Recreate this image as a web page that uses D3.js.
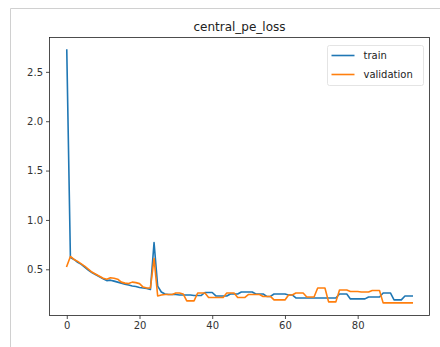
<!DOCTYPE html>
<html>
<head>
<meta charset="utf-8">
<script src="https://cdn.jsdelivr.net/npm/d3@7"></script>
<style>
  body { margin: 0; background: #fff; }
  svg text { font-family: "DejaVu Sans", sans-serif; }
</style>
</head>
<body>
<div id="chart"></div>
<script>
var chartTitle = 'central_pe_loss';
var seriesNames = ['train', 'validation'];
var xTicks = [0, 20, 40, 60, 80];
var yTicks = [0.5, 1.0, 1.5, 2.0, 2.5];

var train = [
  2.72, 0.62, 0.60, 0.57, 0.55, 0.52, 0.49, 0.465, 0.445, 0.425,
  0.405, 0.385, 0.39, 0.38, 0.37, 0.36, 0.35, 0.34, 0.33, 0.325,
  0.315, 0.31, 0.305, 0.295, 0.77, 0.33, 0.27, 0.25, 0.245, 0.245,
  0.245, 0.24, 0.24, 0.24, 0.24, 0.235, 0.235, 0.235, 0.265, 0.265,
  0.265, 0.23, 0.23, 0.23, 0.23, 0.25, 0.25, 0.25, 0.27, 0.27,
  0.27, 0.27, 0.25, 0.25, 0.25, 0.225, 0.225, 0.25, 0.25, 0.25,
  0.25, 0.24, 0.24, 0.21, 0.21, 0.21, 0.21, 0.21, 0.21, 0.21,
  0.21, 0.21, 0.21, 0.21, 0.21, 0.25, 0.25, 0.25, 0.2, 0.2,
  0.2, 0.2, 0.2, 0.22, 0.22, 0.22, 0.22, 0.26, 0.26, 0.26,
  0.19, 0.19, 0.19, 0.23, 0.23, 0.23
];

var validation = [
  0.53, 0.63, 0.60, 0.58, 0.555, 0.53, 0.50, 0.47, 0.45, 0.43,
  0.41, 0.40, 0.415, 0.41, 0.40, 0.37, 0.36, 0.355, 0.37, 0.365,
  0.355, 0.32, 0.31, 0.31, 0.61, 0.23, 0.24, 0.245, 0.245, 0.245,
  0.26, 0.26, 0.25, 0.18, 0.18, 0.18, 0.26, 0.26, 0.26, 0.215,
  0.215, 0.215, 0.215, 0.215, 0.26, 0.26, 0.26, 0.215, 0.215, 0.215,
  0.245, 0.245, 0.245, 0.245, 0.225, 0.225, 0.225, 0.19, 0.19, 0.19,
  0.19, 0.24, 0.24, 0.26, 0.26, 0.26, 0.22, 0.22, 0.22, 0.31,
  0.31, 0.31, 0.17, 0.17, 0.17, 0.29, 0.29, 0.29, 0.275, 0.275,
  0.275, 0.27, 0.27, 0.27, 0.285, 0.285, 0.285, 0.16, 0.16, 0.16,
  0.16, 0.16, 0.16, 0.16, 0.16, 0.16
];

var colors = ['#1f77b4', '#ff7f0e'];

var width = 440, height = 347;
var plot = { left: 49.5, top: 37.5, right: 429.5, bottom: 315.5 };

var svg = d3.select('#chart').append('svg')
  .attr('width', width)
  .attr('height', height);

// notebook output frame
svg.append('path')
  .attr('d', 'M10.5,' + height + 'V8.5H' + width)
  .attr('fill', 'none')
  .attr('stroke', '#d0d0d0')
  .attr('stroke-width', 1);

var n = train.length;
var allVals = train.concat(validation);
var xPad = (n - 1) * 0.05;
var yMin = d3.min(allVals), yMax = d3.max(allVals);
var yPad = (yMax - yMin) * 0.05;

var x = d3.scaleLinear()
  .domain([-xPad, n - 1 + xPad])
  .range([plot.left, plot.right]);
var y = d3.scaleLinear()
  .domain([yMin - yPad, yMax + yPad])
  .range([plot.bottom, plot.top]);

var line = d3.line()
  .x(function (d, i) { return x(i); })
  .y(function (d) { return y(d); });

[train, validation].forEach(function (s, k) {
  svg.append('path')
    .datum(s)
    .attr('d', line)
    .attr('fill', 'none')
    .attr('stroke', colors[k])
    .attr('stroke-width', 1.6)
    .attr('stroke-linejoin', 'round')
    .attr('stroke-linecap', 'square');
});

var xAxis = d3.axisBottom(x).tickValues(xTicks).tickSize(3.5).tickPadding(3)
  .tickFormat(d3.format('d'));
var yAxis = d3.axisLeft(y).tickValues(yTicks).tickSize(3.5).tickPadding(3)
  .tickFormat(d3.format('.1f'));

var gx = svg.append('g')
  .attr('transform', 'translate(0,' + plot.bottom + ')')
  .call(xAxis);
var gy = svg.append('g')
  .attr('transform', 'translate(' + plot.left + ',0)')
  .call(yAxis);

[gx, gy].forEach(function (g) {
  g.select('.domain').remove();
  g.selectAll('.tick line').attr('stroke', '#222').attr('stroke-width', 0.8);
  g.selectAll('.tick text').attr('fill', '#333').style('font-size', '10px');
});

svg.append('rect')
  .attr('x', plot.left).attr('y', plot.top)
  .attr('width', plot.right - plot.left)
  .attr('height', plot.bottom - plot.top)
  .attr('fill', 'none')
  .attr('stroke', '#222')
  .attr('stroke-width', 0.8);

svg.append('text')
  .attr('x', (plot.left + plot.right) / 2)
  .attr('y', 31)
  .attr('text-anchor', 'middle')
  .attr('fill', '#222')
  .style('font-size', '12px')
  .text(chartTitle);

// legend
var legend = svg.append('g').attr('transform', 'translate(327.5,45.5)');
legend.append('rect')
  .attr('width', 96).attr('height', 40).attr('rx', 2)
  .attr('fill', '#fff').attr('fill-opacity', 0.8)
  .attr('stroke', '#ddd').attr('stroke-width', 0.8);

seriesNames.forEach(function (name, k) {
  var ly = 10 + k * 19;
  legend.append('line')
    .attr('x1', 4).attr('x2', 27)
    .attr('y1', ly).attr('y2', ly)
    .attr('stroke', colors[k]).attr('stroke-width', 1.6);
  legend.append('text')
    .attr('x', 36).attr('y', ly + 3.5)
    .attr('fill', '#222')
    .style('font-size', '10px')
    .text(name);
});
</script>
</body>
</html>
